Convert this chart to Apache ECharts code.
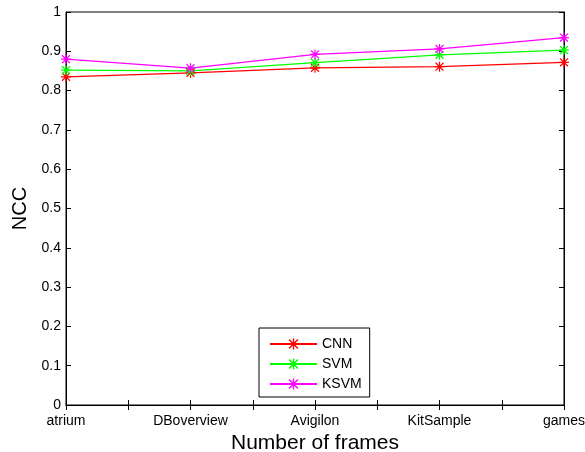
<!DOCTYPE html>
<html>
<head>
<meta charset="utf-8">
<script src="https://cdn.jsdelivr.net/npm/echarts@6/dist/echarts.min.js"></script>
<style>html,body{margin:0;padding:0;background:#fff}#c{width:585px;height:452px}</style>
</head>
<body>
<div id="c"></div>
<script>
var categories = ['atrium', 'DBoverview', 'Avigilon', 'KitSample', 'games'];
var cnn = [0.835, 0.845, 0.858, 0.861, 0.872];
var svm = [0.852, 0.850, 0.871, 0.891, 0.903];
var ksvm = [0.880, 0.857, 0.892, 0.906, 0.935];
var yTicks = [0, 0.1, 0.2, 0.3, 0.4, 0.5, 0.6, 0.7, 0.8, 0.9, 1];

var star = 'path://M0 4.4 L10 4.4 L10 5.6 L0 5.6 Z M4.4 0 L5.6 0 L5.6 10 L4.4 10 Z M0.6 1.5 L1.5 0.6 L9.4 8.5 L8.5 9.4 Z M8.5 0.6 L9.4 1.5 L1.5 9.4 L0.6 8.5 Z';
var font = 'Liberation Sans, Arial, sans-serif';

function pts(arr) { return arr.map(function (v, i) { return [i + 1, v]; }); }
function ser(name, arr, color) {
  return {
    name: name, type: 'line', data: pts(arr), symbol: star, symbolSize: 10,
    lineStyle: { color: color, width: 1.3 }, itemStyle: { color: color },
    emphasis: { disabled: true }
  };
}

var chart = echarts.init(document.getElementById('c'), null, { renderer: 'canvas' });
var xCommon = {
  type: 'value', min: 1, max: categories.length, interval: 0.5,
  splitLine: { show: false },
  axisLine: { lineStyle: { color: '#000', width: 1 } },
  axisTick: { inside: true, length: 5, lineStyle: { color: '#000' } }
};
var yCommon = {
  type: 'value', min: 0, max: 1, interval: 0.1,
  splitLine: { show: false },
  axisLine: { show: true, lineStyle: { color: '#000', width: 1 } },
  axisTick: { show: true, inside: true, length: 5, lineStyle: { color: '#000' } }
};
chart.setOption({
  animation: false,
  backgroundColor: '#fff',
  grid: { left: 66, right: 21, top: 12, bottom: 47, show: true, borderColor: '#000', borderWidth: 1, containLabel: false, outerBoundsMode: 'none' },
  xAxis: [
    Object.assign({}, xCommon, {
      position: 'bottom',
      name: 'Number of frames', nameLocation: 'middle', nameGap: 28,
      nameTextStyle: { fontFamily: font, fontSize: 21, color: '#000' },
      axisLabel: {
        color: '#000', fontFamily: font, fontSize: 14, margin: 9,
        showMinLabel: true, showMaxLabel: true, hideOverlap: false,
        formatter: function (v) { return Number.isInteger(v) ? categories[v - 1] : ''; }
      }
    }),
    Object.assign({}, xCommon, { position: 'top', axisLabel: { show: false } })
  ],
  yAxis: [
    Object.assign({}, yCommon, {
      position: 'left',
      name: 'NCC', nameLocation: 'middle', nameGap: 35,
      nameTextStyle: { fontFamily: font, fontSize: 20, color: '#000' },
      axisLabel: {
        color: '#000', fontFamily: font, fontSize: 14, margin: 5,
        formatter: function (v) { var t = yTicks.find(function (x) { return Math.abs(x - v) < 1e-9; }); return t === undefined ? '' : String(t); }
      }
    }),
    Object.assign({}, yCommon, { position: 'right', axisLabel: { show: false } })
  ],
  legend: {
    orient: 'vertical', left: 259, top: 328,
    itemWidth: 47, itemHeight: 14, itemGap: 6,
    padding: [9, 8, 6, 10],
    borderColor: '#000', borderWidth: 1, backgroundColor: '#fff',
    textStyle: { fontFamily: font, fontSize: 14, color: '#000' },
    data: ['CNN', 'SVM', 'KSVM']
  },
  series: [ser('CNN', cnn, '#ff0000'), ser('SVM', svm, '#00ff00'), ser('KSVM', ksvm, '#ff00ff')]
});
</script>
</body>
</html>
